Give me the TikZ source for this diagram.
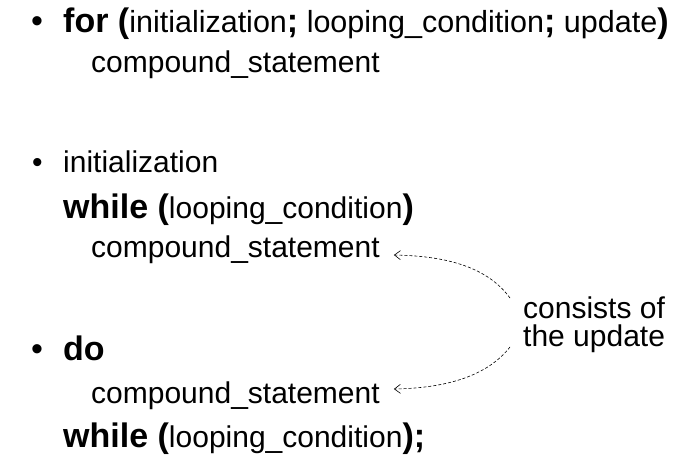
\documentclass[tikz,border=0pt]{standalone}
\usepackage{fontspec}
\setmainfont{Liberation Sans}
\usetikzlibrary{arrows.meta,calc}
\newcommand{\kw}[1]{{\fontsize{34}{41}\selectfont\bfseries #1}}
\begin{document}
\begin{tikzpicture}[x=1pt,y=-1pt,
  txt/.style={anchor=base west, inner sep=0pt, font=\fontsize{30}{36}\selectfont},
  firsttxt/.style={anchor=base west, inner sep=0pt, font=\fontsize{30.5}{36}\selectfont},
  bigbul/.style={anchor=base west, inner sep=0pt, font=\fontsize{34}{41}\selectfont},
  smallbul/.style={anchor=base west, inner sep=0pt, font=\fontsize{30}{36}\selectfont},
  conn/.style={draw=black, line width=0.6pt, dash pattern=on 3pt off 2pt,
    -{Straight Barb[length=6pt,width=9pt]}}]
\useasboundingbox (0,0) rectangle (682,460);
% for loop
\node[bigbul] (b1) at (31,33) {•};
\node[firsttxt] (l1) at (63,33) {\kw{for (}initialization\kw{;} looping\_condition\kw{;} update\kw{)}};
\node[txt] (l2) at (91,73) {compound\_statement};
% while loop
\node[smallbul] (b2) at (32,172) {•};
\node[txt] (l3) at (63,172) {initialization};
\node[txt] (l4) at (63,218) {\kw{while (}looping\_condition\kw{)}};
\node[txt] (cs1) at (91,257) {compound\_statement};
% do loop
\node[bigbul] (b3) at (31,360) {•};
\node[txt] (l6) at (63,360) {\kw{do}};
\node[txt] (cs2) at (91,403) {compound\_statement};
\node[txt] (l8) at (63,447) {\kw{while (}looping\_condition\kw{);}};
% note
\node[txt] (n1) at (523,318) {consists of};
\node[txt] (n2) at (523,346) {the update};
\coordinate (s1) at ($(n1.base west)+(-13,-20)$);
\coordinate (s2) at ($(n2.base west)+(-13,1)$);
\coordinate (t1) at ($(cs1.base east)+(14,-2)$);
\coordinate (t2) at ($(cs2.base east)+(14,-14)$);
\draw[conn] (s1) .. controls +(-22,-30) and +(55,1) .. (t1);
\draw[conn] (s2) .. controls +(-22,28) and +(55,-1) .. (t2);
\end{tikzpicture}
\end{document}
